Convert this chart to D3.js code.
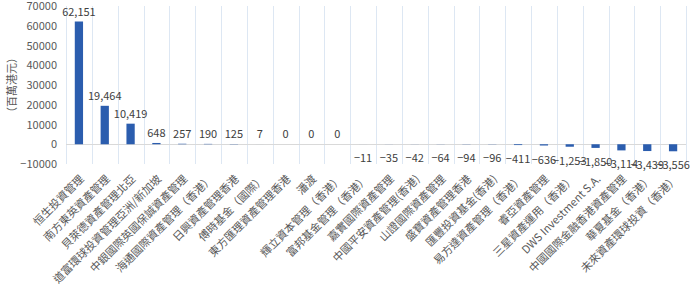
<!DOCTYPE html>
<html>
<head>
<meta charset="utf-8">
<script src="https://cdn.jsdelivr.net/npm/d3@7"></script>
<style>
  html, body { margin: 0; padding: 0; background: #fff; }
  svg text { font-family: "Noto Sans CJK TC", "Noto Sans", sans-serif; }
</style>
</head>
<body>
<svg id="chart" width="700" height="293"></svg>
<script>
const categories = [
  '恒生投資管理', '南方東英資產管理', '貝萊德資產管理北亞', '道富環球投資管理亞洲/新加坡',
  '中銀國際英國保誠資產管理', '海通國際資產管理（香港）', '日興資產管理香港', '傅時基金（國際）',
  '東方匯理資產管理香港', '潘渡', '輝立資本管理（香港）', '富邦基金管理（香港）',
  '嘉實國際資產管理', '中國平安資產管理(香港)', '山證國際資產管理', '盛寶資產管理香港',
  '匯豐投資基金(香港)', '易方達資產管理（香港）', '睿亞資產管理', '三星資產運用（香港）',
  'DWS Investment S.A.', '中國國際金融香港資產管理', '華夏基金（香港）', '未來資產環球投資（香港）'
];
const values = [
  62151, 19464, 10419, 648, 257, 190, 125, 7, 0, 0, 0, -11,
  -35, -42, -64, -94, -96, -411, -636, -1253, -1850, -3114, -3439, -3556
];
const yTicks = [70000, 60000, 50000, 40000, 30000, 20000, 10000, 0, -10000];
const yTitle = '（百萬港元）';

const svg = d3.select('#chart');
const margin = {left: 66, right: 14, top: 6, bottom: 129};
const width = 700 - margin.left - margin.right;
const height = 293 - margin.top - margin.bottom;

const x = d3.scaleBand().domain(categories).range([0, width]).paddingInner(0).paddingOuter(0);
const y = d3.scaleLinear().domain([-10000, 70000]).range([height, 0]);

const g = svg.append('g').attr('transform', `translate(${margin.left},${margin.top})`);

// vertical gridlines at band edges
const edges = categories.map(c => x(c)).concat([width]);
g.append('g')
  .selectAll('line')
  .data(edges)
  .enter().append('line')
  .attr('x1', d => Math.round(d) + 0.5)
  .attr('x2', d => Math.round(d) + 0.5)
  .attr('y1', 0)
  .attr('y2', height)
  .attr('stroke', '#dde7f3')
  .attr('stroke-width', 1);

// y axis labels
const yAxis = g.append('g')
  .call(d3.axisLeft(y).tickValues(yTicks).tickSize(0).tickPadding(9).tickFormat(d3.format('d')));
yAxis.select('.domain').remove();
yAxis.selectAll('text')
  .attr('fill', '#595959')
  .style('font-size', '11px');

// zero line
g.append('line')
  .attr('x1', 0).attr('x2', width)
  .attr('y1', Math.round(y(0)) + 0.5).attr('y2', Math.round(y(0)) + 0.5)
  .attr('stroke', '#d9d9d9')
  .attr('stroke-width', 1);

// bars
const barW = x.bandwidth() * 0.32;
g.append('g')
  .selectAll('rect')
  .data(values)
  .enter().append('rect')
  .attr('x', (d, i) => x(categories[i]) + (x.bandwidth() - barW) / 2)
  .attr('y', d => y(Math.max(0, d)))
  .attr('width', barW)
  .attr('height', d => Math.abs(y(d) - y(0)))
  .attr('fill', '#2b5dae');

// value labels
g.append('g')
  .selectAll('text')
  .data(values)
  .enter().append('text')
  .attr('x', (d, i) => x(categories[i]) + x.bandwidth() / 2)
  .attr('y', d => d >= 0 ? y(d) - 6 : y(d) + 18)
  .attr('text-anchor', 'middle')
  .attr('fill', '#404040')
  .style('font-size', '11px')
  .text(d => d3.format(',')(d));

// category labels
g.append('g')
  .selectAll('text')
  .data(categories)
  .enter().append('text')
  .attr('text-anchor', 'end')
  .attr('transform', d => `translate(${x(d) + x.bandwidth() / 2 + 3},${height + 13}) rotate(-45)`)
  .attr('dy', '0.35em')
  .attr('fill', '#595959')
  .style('font-size', '11px')
  .text(d => d);

// y title
svg.append('text')
  .attr('transform', `translate(12,${margin.top + height / 2}) rotate(-90)`)
  .attr('text-anchor', 'middle')
  .attr('dy', '0.35em')
  .attr('fill', '#595959')
  .style('font-size', '11px')
  .text(yTitle);
</script>
</body>
</html>
